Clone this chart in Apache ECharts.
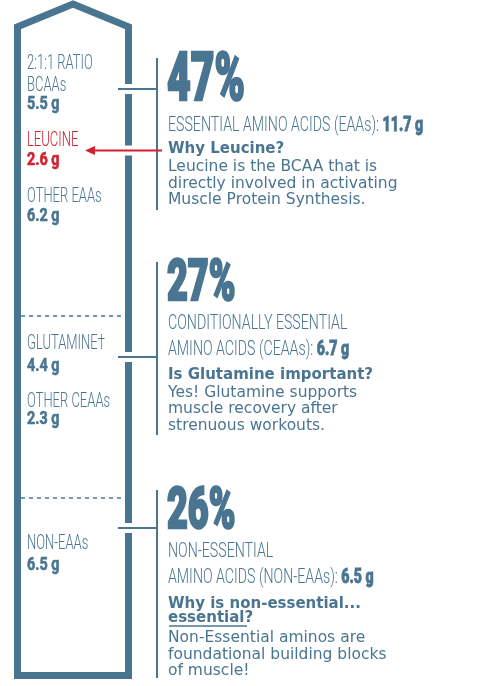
<!DOCTYPE html>
<html>
<head>
<meta charset="utf-8">
<script src="https://cdn.jsdelivr.net/npm/echarts@6/dist/echarts.min.js"></script>
<style>
  html, body { margin: 0; padding: 0; background: #fff; }
  #main { width: 478px; height: 686px; }
</style>
</head>
<body>
<div id="main"></div>
<script>
// data
var sectionNames = ['Non-essential', 'Conditionally essential', 'Essential'];   // bottom -> top
var sectionPct = [26, 27, 47];
var headLines = [['ESSENTIAL AMINO ACIDS (EAAs):'], ['CONDITIONALLY ESSENTIAL', 'AMINO ACIDS (CEAAs):'], ['NON-ESSENTIAL', 'AMINO ACIDS (NON-EAAs):']];
var headPct = [47, 27, 26];
var headGrams = [11.7, 6.7, 6.5];
var partNames = [['2:1:1 RATIO', 'BCAAs'], ['LEUCINE'], ['OTHER EAAs'], ['GLUTAMINE\u2020'], ['OTHER CEAAs'], ['NON-EAAs']];
var partGrams = [5.5, 2.6, 6.2, 4.4, 2.3, 6.5];
var questions = [['Why Leucine?'], ['Is Glutamine important?'], ['Why is non-essential...', 'essential?']];
var answers = [
  ['Leucine is the BCAA that is', 'directly involved in activating', 'Muscle Protein Synthesis.'],
  ['Yes! Glutamine supports', 'muscle recovery after', 'strenuous workouts.'],
  ['Non-Essential aminos are', 'foundational building blocks', 'of muscle!']
];

// layout (pixels)
var BLUE = '#4a7591', RED = '#d2202e';
var partY = [[64, 86], [140.5], [197], [344], [401.5], [544]];
var partValY = [104, 160, 216, 366.5, 419.5, 565];
var pctY = [83, 285, 513.5], pctSize = [66, 58, 58];
var headY = [[125.5], [323.5, 350], [552, 577.5]];
var qY = [[149.5], [375], [604, 618.5]];
var aY = [[167, 183.7, 200.4], [392.5, 409, 425.5], [638, 654.5, 671]];
var brackets = [[58, 210], [262, 435], [490, 678]];
var connY = [89, 357, 528];
var arrowY = 150.5;
var roofStart = 96;

var myChart = echarts.init(document.getElementById('main'));

function txt(x, y, text, font, color, sx, stroke) {
  var st = { text: text, font: font, fill: color || BLUE, verticalAlign: 'middle' };
  if (stroke) { st.stroke = color || BLUE; st.lineWidth = stroke; }
  return { type: 'text', x: x, y: y, scaleX: sx || 1, z: 100, style: st };
}

var graphics = [];
// left labels
partNames.forEach(function (lines, i) {
  var c = i === 1 ? RED : BLUE;
  lines.forEach(function (t, j) {
    graphics.push(txt(27, partY[i][j], t, '300 20px Roboto', c, 0.65));
  });
  graphics.push(txt(27, partValY[i], partGrams[i] + ' g', 'bold 18px Roboto', c, 0.8, 0.6));
});
// right blocks
headPct.forEach(function (p, i) {
  graphics.push(txt(167, pctY[i], p + '%', '900 ' + pctSize[i] + 'px Roboto', BLUE, 0.62, 2.5));
  headLines[i].forEach(function (t, j) {
    var last = j === headLines[i].length - 1;
    graphics.push({
      type: 'text', x: 168, y: headY[i][j], scaleX: 0.675, z: 100,
      style: {
        text: last ? '{a|' + t + ' }{b|' + headGrams[i] + ' g}' : '{a|' + t + '}',
        verticalAlign: 'middle',
        rich: {
          a: { font: '300 21px Roboto', fill: BLUE },
          b: { font: '900 21px Roboto', fill: BLUE, stroke: BLUE, lineWidth: 0.8 }
        }
      }
    });
  });
  questions[i].forEach(function (t, j) {
    graphics.push(txt(168, qY[i][j], t, 'bold 15px "DejaVu Sans"', BLUE, 1));
  });
  answers[i].forEach(function (t, j) {
    graphics.push(txt(168, aY[i][j], t, '15.5px "DejaVu Sans"', BLUE, 1));
  });
  graphics.push({
    type: 'line', z: 100,
    shape: { x1: 157, y1: brackets[i][0], x2: 157, y2: brackets[i][1] },
    style: { stroke: BLUE, lineWidth: 2 }
  });
  graphics.push({
    type: 'rect', z: 99,
    shape: { x: 123, y: connY[i] - 5, width: 11, height: 10 },
    style: { fill: '#fff' }
  });
  graphics.push({
    type: 'line', z: 100,
    shape: { x1: 118, y1: connY[i], x2: 157, y2: connY[i] },
    style: { stroke: BLUE, lineWidth: 2 }
  });
});
// underline for "essential"
graphics.push({
  type: 'line', z: 100,
  shape: { x1: 169, y1: 626, x2: 247, y2: 626 },
  style: { stroke: BLUE, lineWidth: 1.5 }
});
// leucine arrow
graphics.push({ type: 'rect', z: 99, shape: { x: 123, y: arrowY - 5, width: 11, height: 10 }, style: { fill: '#fff' } });
graphics.push({ type: 'line', z: 100, shape: { x1: 92, y1: arrowY, x2: 162, y2: arrowY }, style: { stroke: RED, lineWidth: 2 } });
graphics.push({ type: 'polygon', z: 100, shape: { points: [[85, arrowY], [95, arrowY - 4.5], [95, arrowY + 4.5]] }, style: { fill: RED } });

var cum = [];
sectionPct.reduce(function (a, v) { cum.push(a + v); return a + v; }, 0);

var series = sectionNames.map(function (n, i) {
  var s = {
    name: n, type: 'bar', stack: 'total', data: [sectionPct[i]],
    barWidth: '100%', itemStyle: { color: '#fff' }, silent: true
  };
  if (i === 0) {
    s.markLine = {
      symbol: 'none', silent: true, label: { show: false },
      lineStyle: { color: BLUE, type: [4, 4], width: 1.5 },
      data: cum.slice(0, 2).map(function (v) { return { yAxis: v }; })
    };
  }
  return s;
});
series.push({
  type: 'custom', silent: true, data: [[0, 100]], z: 5,
  renderItem: function (params, api) {
    var base = api.coord([0, 0]);
    var top = api.coord([0, 100]);
    var sh = api.coord([0, roofStart]);
    var bw = api.size([1, 0])[0];
    var w = 7;
    var l = base[0] - bw / 2 - w / 2, r = base[0] + bw / 2 + w / 2;
    return {
      type: 'polygon',
      shape: { points: [[l, base[1] + w / 2], [l, sh[1]], [base[0], top[1] + 4], [r, sh[1]], [r, base[1] + w / 2]] },
      style: { fill: 'none', stroke: BLUE, lineWidth: w, lineJoin: 'miter' }
    };
  }
});

var option = {
  animation: false,
  grid: { left: 21, width: 104, top: 0, bottom: 14 },
  xAxis: { type: 'category', data: ['amino acids'], show: false },
  yAxis: { type: 'value', min: 0, max: 100, show: false },
  series: series,
  graphic: graphics
};
myChart.setOption(option);
</script>
</body>
</html>
